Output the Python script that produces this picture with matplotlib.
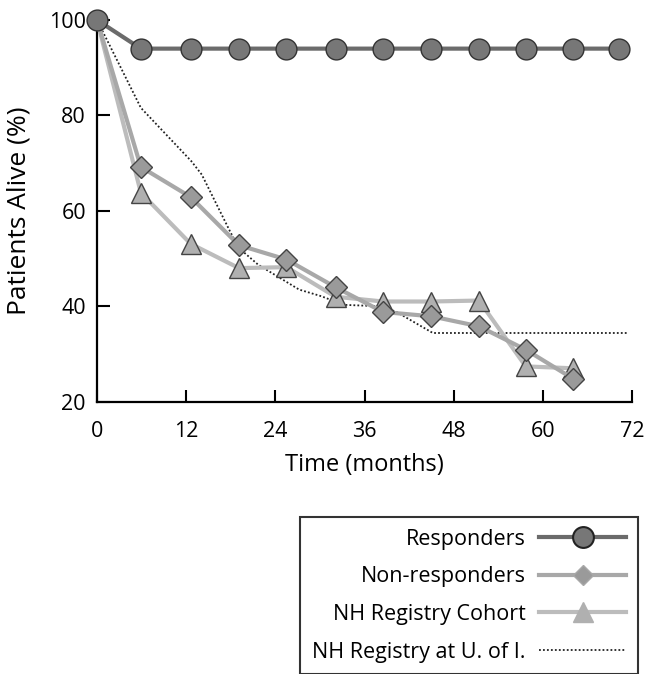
import matplotlib
matplotlib.use("Agg")
import matplotlib.pyplot as plt
from matplotlib.lines import Line2D

plt.rcParams['font.family'] = ['Open Sans', 'DejaVu Sans']

# Data
resp_x = [0, 5.9, 12.6, 19.1, 25.5, 32.1, 38.5, 45.0, 51.4, 57.7, 64.1, 70.2]
resp_y = [100, 94, 94, 94, 94, 94, 94, 94, 94, 94, 94, 94]

nonresp_x = [0, 5.9, 12.6, 19.1, 25.5, 32.1, 38.5, 45.0, 51.4, 57.7, 64.1]
nonresp_y = [100, 69.2, 62.9, 52.8, 49.8, 44.0, 38.8, 37.9, 35.8, 30.9, 24.8]

cohort_x = [0, 5.9, 12.6, 19.1, 25.5, 32.1, 38.5, 45.0, 51.4, 57.7, 64.1]
cohort_y = [100, 63.8, 53.1, 48.0, 48.2, 42.0, 41.0, 41.0, 41.2, 27.4, 27.0]

ui_x = [0, 5.9, 12.7, 14.1, 17.9, 19.1, 21.7, 27.2, 30.2, 33.2, 38.2, 40.2, 45.2, 71.3]
ui_y = [100, 81.6, 70.4, 67.6, 55.7, 52.2, 48.7, 43.5, 42.1, 40.3, 40.0, 38.9, 34.4, 34.4]

xticks = [0, 12, 24, 36, 48, 60, 72]
yticks = [20, 40, 60, 80, 100]

fig = plt.figure(figsize=(6.55, 6.74), dpi=100)
ax = fig.add_axes([97/655, 1-401.7/674, (632-97)/655, (401.7-20)/674])

ax.plot(ui_x, ui_y, color='#222222', lw=1.3, ls=(0, (1, 1.2)), zorder=2, clip_on=False)
ax.plot(cohort_x, cohort_y, color='#bcbcbc', lw=3, marker='^', ms=15, markevery=slice(1, None),
        mfc='#b0b0b0', mec='#444444', mew=1.0, zorder=3, clip_on=False)
ax.plot(nonresp_x, nonresp_y, color='#a8a8a8', lw=3, marker='D', ms=11, markevery=slice(1, None),
        mfc='#9a9a9a', mec='#444444', mew=1.0, zorder=4, clip_on=False)
ax.plot(resp_x, resp_y, color='#6b6b6b', lw=3, marker='o', ms=15,
        mfc='#777777', mec='#333333', mew=1.0, zorder=5, clip_on=False)

ax.set_xlim(0, 72)
ax.set_ylim(20, 100)
ax.set_xticks(xticks)
ax.set_yticks(yticks)
ax.tick_params(direction='in', length=9, width=1.5, labelsize=15.5, colors='black')
ax.tick_params(axis='x', pad=14)
ax.tick_params(axis='y', pad=8)
for s in ['top', 'right']:
    ax.spines[s].set_visible(False)
for s in ['left', 'bottom']:
    ax.spines[s].set_linewidth(1.6)
ax.set_xlabel('Time (months)', fontsize=17, labelpad=8)
ax.set_ylabel('Patients Alive (%)', fontsize=19)
ax.yaxis.set_label_coords((32 - 97) / 535, 0.5)

handles = [
    Line2D([], [], color='#6b6b6b', lw=3, marker='o', ms=15, mfc='#777777', mec='#222222', mew=1.5),
    Line2D([], [], color='#a8a8a8', lw=3, marker='D', ms=10, mfc='#9a9a9a', mec='#a8a8a8'),
    Line2D([], [], color='#bcbcbc', lw=3, marker='^', ms=15, mfc='#b0b0b0', mec='#b0b0b0'),
    Line2D([], [], color='#222222', lw=1.3, ls=(0, (1, 1.2))),
]
labels = ['Responders', 'Non-responders', 'NH Registry Cohort', 'NH Registry at U. of I.']
leg = fig.legend(handles, labels, loc='upper right', bbox_to_anchor=(638/655, 1-517/674),
                 markerfirst=False, frameon=True, fancybox=False, fontsize=15.5,
                 handlelength=4.05, labelspacing=0.77, borderpad=0.55, handletextpad=0.63,
                 borderaxespad=0)
leg.get_frame().set_edgecolor('black')
leg.get_frame().set_linewidth(1.5)

fig.savefig('out.png', dpi=100)
